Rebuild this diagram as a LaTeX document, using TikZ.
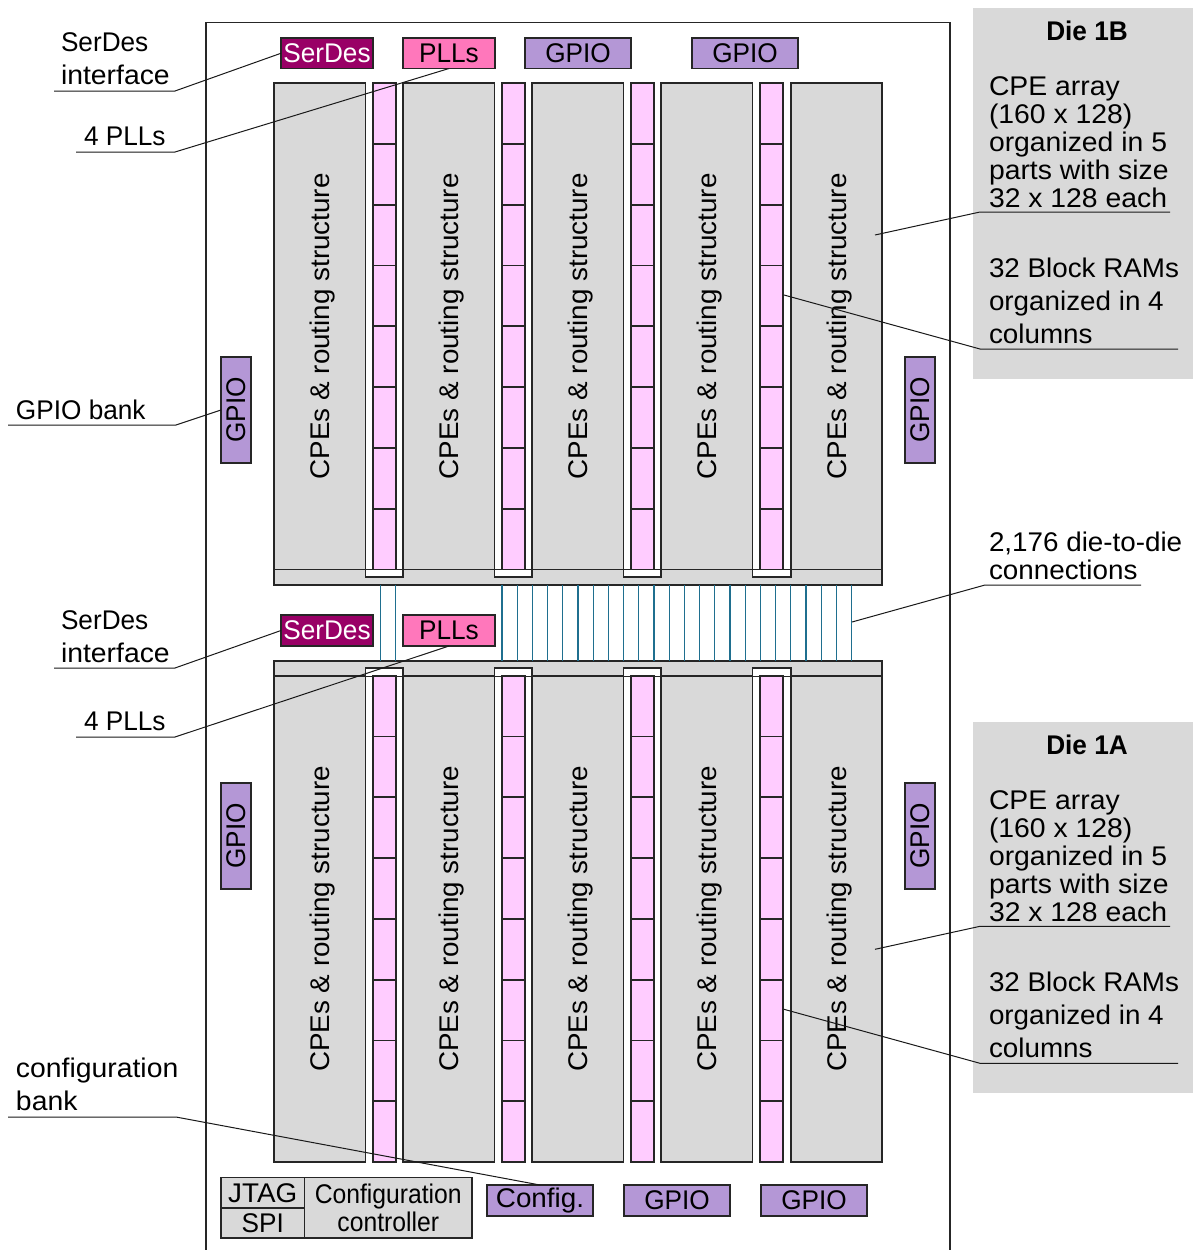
\documentclass[tikz,border=0pt]{standalone}
\usepackage{fontspec}
\setmainfont{Liberation Sans}[FakeStretch=1.05]
\newfontfamily\boxfont{Liberation Sans}[FakeStretch=0.97]
\newfontfamily\vertfont{Liberation Sans}[FakeStretch=1.03]
\newfontfamily\ccfont{Liberation Sans}[FakeStretch=0.915]
\tikzset{
  x=1pt,y=-1pt,
  box/.style={draw=black!85,line width=1.7pt,inner sep=0pt,outer sep=0pt,font=\boxfont\fontsize{27}{30}\selectfont},
  grey/.style={box,fill=cgrey},
  ram/.style={box,fill=cpink},
  gpio/.style={box,fill=cpurple},
  pll/.style={box,fill=cpll},
  serdes/.style={box,fill=cserdes,text=white},
  lead/.style={draw=black!90,line width=1pt},
  lbl/.style={inner sep=0pt,outer sep=0pt,anchor=base west,align=left,font=\fontsize{27}{33}\selectfont},
  info/.style={lbl,font=\fontsize{27}{28}\selectfont},
  vert/.style={inner sep=0pt,rotate=90,font=\boxfont\fontsize{27}{30}\selectfont},
  colvert/.style={inner sep=0pt,rotate=90,yshift=-3pt,font=\vertfont\fontsize{27}{30}\selectfont},
  wire/.style={draw=cwire,line width=1.3pt},
  panel/.style={fill=cgrey,draw=none,inner sep=0pt,outer sep=0pt},
}
\definecolor{cgrey}{HTML}{D9D9D9}
\definecolor{cpink}{HTML}{FFCCFF}
\definecolor{cpurple}{HTML}{B497D6}
\definecolor{cpll}{HTML}{FF77BB}
\definecolor{cserdes}{HTML}{990066}
\definecolor{cwire}{HTML}{1F6F8F}
% name, x1, y1, x2, y2, style, text
\newcommand{\bx}[7]{\node[#6,minimum width={((#4)-(#2))*1pt},minimum height={((#5)-(#3))*1pt}] (#1) at ({((#2)+(#4))/2},{((#3)+(#5))/2}) {#7};}
\begin{document}
\begin{tikzpicture}
\useasboundingbox (0,0) rectangle (1193,1250);
\fill[white] (0,0) rectangle (1193,1250);
% chip outline, open at the foot of the picture
\coordinate (o1) at (206,1250); \coordinate (o2) at (206,22.5);
\coordinate (o3) at (950,22.5); \coordinate (o4) at (950,1250);
\draw[draw=black!85,line width=1.7pt] (o1)--(o2)--(o3)--(o4);
% panels
\bx{p1}{973}{8}{1193}{379}{panel}{}
\bx{p2}{973}{722}{1193}{1093}{panel}{}
% wires
\bx{st}{274}{569.5}{882}{584.7}{grey}{}
\bx{sb}{274}{660.7}{882}{675.7}{grey}{}
\foreach \wx [count=\i] in {380.7,395.7} {
  \coordinate (wa\i) at (\wx,0);
  \draw[wire] (st.south -| wa\i) -- (sb.north -| wa\i);
}
\foreach \i in {0,...,23} {
  \coordinate (w\i) at ({502+\i*15.2},0);
  \draw[wire] (st.south -| w\i) -- (sb.north -| w\i);
}
% slots
\foreach \sla/\slb [count=\i] in {365.4/403.3,494.4/532.3,623.4/661.3,752.6/790.7} {
  \coordinate (sta\i) at (\sla,569.5); \coordinate (stb\i) at (\sla,577);
  \coordinate (stc\i) at (\slb,577);  \coordinate (std\i) at (\slb,569.5);
  \filldraw[fill=white,draw=black!85,line width=1.7pt] (sta\i)--(stb\i)--(stc\i)--(std\i);
  \coordinate (sba\i) at (\sla,675.7); \coordinate (sbb\i) at (\sla,668.3);
  \coordinate (sbc\i) at (\slb,668.3);  \coordinate (sbd\i) at (\slb,675.7);
  \filldraw[fill=white,draw=black!85,line width=1.7pt] (sba\i)--(sbb\i)--(sbc\i)--(sbd\i);
}
% columns
\foreach \ca/\cb [count=\i] in {274/365.4,403.3/494.4,532.3/623.4,661.3/752.6,790.7/882} {
  \bx{ct\i}{\ca}{83}{\cb}{569.5}{grey}{}
  \node[colvert] (ctt\i) at (ct\i.center) {CPEs \& routing structure};
  \bx{cb\i}{\ca}{675.7}{\cb}{1162}{grey}{}
  \node[colvert] (cbt\i) at (cb\i.center) {CPEs \& routing structure};
}
% block RAMs
\foreach \ra/\rb [count=\i] in {373/395.7,502/525,631/654,760.3/783.3} {
  \foreach \k in {0,...,7} {
    \bx{rt\i\k}{\ra}{83+\k*60.83}{\rb}{83+(\k+1)*60.83}{ram}{}
    \bx{rb\i\k}{\ra}{675.7+\k*60.79}{\rb}{675.7+(\k+1)*60.79}{ram}{}
  }
}
% IO blocks
\bx{sd1}{281}{38}{373}{68.5}{serdes}{SerDes}
\bx{pl1}{403}{38}{495}{68.5}{pll}{PLLs}
\bx{gt1}{525}{38}{631}{68.5}{gpio}{GPIO}
\bx{gt2}{692}{38}{798}{68.5}{gpio}{GPIO}
\bx{sd2}{281}{615}{373}{646}{serdes}{SerDes}
\bx{pl2}{403}{615}{495}{646}{pll}{PLLs}
\bx{gl1}{221}{357}{251}{463}{gpio}{}
\node[vert] (glt1) at (gl1.center) {GPIO};
\bx{gr1}{905}{357}{935}{463}{gpio}{}
\node[vert] (grt1) at (gr1.center) {GPIO};
\bx{gl2}{221}{783}{251}{889}{gpio}{}
\node[vert] (glt2) at (gl2.center) {GPIO};
\bx{gr2}{905}{783}{935}{889}{gpio}{}
\node[vert] (grt2) at (gr2.center) {GPIO};
\bx{jt}{221}{1177.5}{304.5}{1208}{grey,font=\vertfont\fontsize{27}{30}\selectfont}{JTAG}
\bx{sp}{221}{1208}{304.5}{1238}{grey}{SPI}
\bx{cc}{304.5}{1177.5}{472}{1238}{grey,align=center,font=\ccfont\fontsize{27}{28}\selectfont}{Configuration\\controller}
\bx{cf}{487}{1185}{593}{1216}{gpio,font=\vertfont\fontsize{27}{30}\selectfont}{Config.}
\bx{gb1}{624}{1185}{730}{1216}{gpio}{GPIO}
\bx{gb2}{761}{1185}{867}{1216}{gpio}{GPIO}
% labels (the base of a multi-line node is its last line)
\node[lbl] (l1) at (61,84) {{\boxfont SerDes}\\interface};
\node[lbl,font=\boxfont\fontsize{27}{33}\selectfont] (l2) at (84,145) {4 PLLs};
\node[lbl,font=\boxfont\fontsize{27}{33}\selectfont] (l3) at (16,419) {GPIO bank};
\node[lbl] (l4) at (61,662) {{\boxfont SerDes}\\interface};
\node[lbl,font=\boxfont\fontsize{27}{33}\selectfont] (l5) at (84,730) {4 PLLs};
\node[lbl] (l6) at (16,1110) {configuration\\bank};
\node[info,font=\vertfont\fontsize{27}{28}\selectfont] (l7) at (989,579) {2,176 die-to-die\\connections};
% panel text
\foreach \pn/\dy/\dn in {1/0/1B,2/714.3/1A} {
  \node[lbl,font=\boxfont\fontsize{27}{30}\selectfont\bfseries,anchor=base] (dh\pn) at (1087,{40+\dy}) {Die \dn};
  \node[info] (di\pn) at (989,{207+\dy}) {CPE array\\(160 x 128)\\organized in 5\\parts with size\\32 x 128 each};
  \node[lbl,font=\vertfont\fontsize{27}{33}\selectfont] (dj\pn) at (989,{343+\dy}) {32 Block RAMs\\organized in 4\\columns};
}
% leaders
\coordinate (a1) at (54,91); \coordinate (a2) at (175,91);
\draw[lead] (a1)--(a2)--(sd1.west);
\coordinate (b1) at (76,152); \coordinate (b2) at (175,152);
\draw[lead] (b1)--(b2)--(pl1.south);
\coordinate (c1) at (8,425); \coordinate (c2) at (176,425);
\draw[lead] (c1)--(c2)--(gl1.west);
\coordinate (d1) at (54,668); \coordinate (d2) at (175,668);
\draw[lead] (d1)--(d2)--(sd2.west);
\coordinate (e1) at (76,737); \coordinate (e2) at (175,737);
\draw[lead] (e1)--(e2)--(pl2.south);
\coordinate (f1) at (8,1117); \coordinate (f2) at (176,1117);
\draw[lead] (f1)--(f2)--(cf.north);
\coordinate (g1) at (1141,585); \coordinate (g2) at (985,585); \coordinate (g3) at (852,622);
\draw[lead] (g1)--(g2)--(g3);
\foreach \pn/\dy in {1/0,2/714.3} {
  \coordinate (h1\pn) at (1170,{212+\dy}); \coordinate (h2\pn) at (980,{212+\dy}); \coordinate (h3\pn) at (875,{235+\dy});
  \draw[lead] (h1\pn)--(h2\pn)--(h3\pn);
  \coordinate (i1\pn) at (1178,{349+\dy}); \coordinate (i2\pn) at (980,{349+\dy}); \coordinate (i3\pn) at (784,{295+\dy});
  \draw[lead] (i1\pn)--(i2\pn)--(i3\pn);
}
\end{tikzpicture}
\end{document}
